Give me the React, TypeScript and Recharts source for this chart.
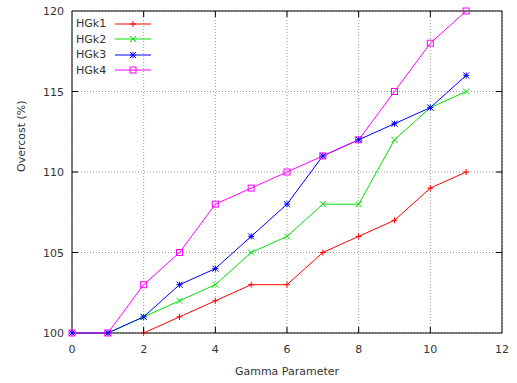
import { LineChart, Line, XAxis, YAxis, CartesianGrid, ReferenceArea } from "recharts";

const gamma = [0, 1, 2, 3, 4, 5, 6, 7, 8, 9, 10, 11];
const hgk1 = [null, null, 100, 101, 102, 103, 103, 105, 106, 107, 109, 110];
const hgk2 = [100, 100, 101, 102, 103, 105, 106, 108, 108, 112, 114, 115];
const hgk3 = [100, 100, 101, 103, 104, 106, 108, 111, 112, 113, 114, 116];
const hgk4 = [100, 100, 103, 105, 108, 109, 110, 111, 112, 115, 118, 120];
const xTicks = [0, 2, 4, 6, 8, 10, 12];
const yTicks = [100, 105, 110, 115, 120];

const data = gamma.map((g, i) => ({ g, hgk1: hgk1[i], hgk2: hgk2[i], hgk3: hgk3[i], hgk4: hgk4[i] }));

const W = 517;
const H = 383;
const LEFT = 72;
const RIGHT = 502;
const TOP = 11;
const BOTTOM = 333;
const FONT = "'DejaVu Sans', sans-serif";
const TXT = "#333";

type Kind = "plus" | "cross" | "star" | "square";

const series: { key: string; name: string; color: string; kind: Kind }[] = [
  { key: "hgk1", name: "HGk1", color: "#ff0000", kind: "plus" },
  { key: "hgk2", name: "HGk2", color: "#00e000", kind: "cross" },
  { key: "hgk3", name: "HGk3", color: "#0000ff", kind: "star" },
  { key: "hgk4", name: "HGk4", color: "#ff00ff", kind: "square" },
];

const Marker = ({ cx, cy, color, kind }: { cx: number; cy: number; color: string; kind: Kind }) => {
  const s = 3;
  const plus = (
    <>
      <line x1={cx - s} x2={cx + s} y1={cy} y2={cy} />
      <line x1={cx} x2={cx} y1={cy - s} y2={cy + s} />
    </>
  );
  const cross = (
    <>
      <line x1={cx - s} x2={cx + s} y1={cy - s} y2={cy + s} />
      <line x1={cx - s} x2={cx + s} y1={cy + s} y2={cy - s} />
    </>
  );
  return (
    <g stroke={color} strokeWidth={1} fill="none">
      {kind === "plus" && plus}
      {kind === "cross" && cross}
      {kind === "star" && (
        <>
          {plus}
          {cross}
        </>
      )}
      {kind === "square" && <rect x={cx - s} y={cy - s} width={2 * s} height={2 * s} />}
    </g>
  );
};

const makeDot = (color: string, kind: Kind) => (p: any) => {
  if (p.value == null || p.cx == null || p.cy == null) return <g key={p.key} />;
  return <Marker key={p.key} cx={p.cx} cy={p.cy} color={color} kind={kind} />;
};

const XTick = ({ x, payload }: any) => {
  const edge = payload.value === 0 || payload.value === 12;
  return (
    <g>
      {!edge && (
        <g stroke="#000">
          <line x1={x} x2={x} y1={BOTTOM} y2={BOTTOM - 6} />
          <line x1={x} x2={x} y1={TOP} y2={TOP + 6} />
        </g>
      )}
      <text x={x} y={BOTTOM + 20} textAnchor="middle" fill={TXT} fontSize={11} fontFamily={FONT}>
        {payload.value}
      </text>
    </g>
  );
};

const YTick = ({ y, payload }: any) => {
  const edge = payload.value === 100 || payload.value === 120;
  return (
    <g>
      {!edge && (
        <g stroke="#000">
          <line x1={LEFT} x2={LEFT + 6} y1={y} y2={y} />
          <line x1={RIGHT - 6} x2={RIGHT} y1={y} y2={y} />
        </g>
      )}
      <text x={LEFT - 8} y={y + 4} textAnchor="end" fill={TXT} fontSize={11} fontFamily={FONT}>
        {payload.value}
      </text>
    </g>
  );
};

const LegendBox = () => (
  <div style={{ position: "absolute", left: 76, top: 16, fontFamily: FONT, fontSize: 11, color: TXT }}>
    {series.map((s) => (
      <div key={s.key} style={{ display: "flex", alignItems: "center", height: 15.5 }}>
        <span style={{ width: 39 }}>{s.name}</span>
        <svg width={37} height={12}>
          <line x1={0} x2={36} y1={6} y2={6} stroke={s.color} strokeWidth={1} />
          <Marker cx={18} cy={6} color={s.color} kind={s.kind} />
        </svg>
      </div>
    ))}
  </div>
);

export default function App() {
  return (
    <div style={{ position: "absolute", left: 0, top: 0, width: W, height: H, background: "#fff" }}>
      <LineChart width={W} height={H} data={data} margin={{ top: TOP, right: W - RIGHT, left: 12, bottom: 20 }}>
        <CartesianGrid stroke="#999" strokeDasharray="1 2" />
        <XAxis
          dataKey="g"
          type="number"
          domain={[0, 12]}
          ticks={xTicks}
          axisLine={false}
          tickLine={false}
          tick={<XTick />}
          height={30}
          label={{ value: "Gamma Parameter", position: "insideBottom", offset: -12, fill: TXT, fontSize: 11, fontFamily: FONT }}
        />
        <YAxis
          type="number"
          domain={[100, 120]}
          ticks={yTicks}
          axisLine={false}
          tickLine={false}
          tick={<YTick />}
          width={60}
          label={{ value: "Overcost (%)", angle: -90, position: "insideLeft", offset: 0, dx: 9, fill: TXT, fontSize: 11, fontFamily: FONT }}
        />
        <ReferenceArea x1={0} x2={12} y1={100} y2={120} fill="none" stroke="#000" strokeWidth={1} fillOpacity={0} />
        {series.map((s) => (
          <Line
            key={s.key}
            dataKey={s.key}
            name={s.name}
            stroke={s.color}
            strokeWidth={1}
            type="linear"
            connectNulls={false}
            dot={makeDot(s.color, s.kind)}
            activeDot={false}
            isAnimationActive={false}
          />
        ))}
      </LineChart>
      <LegendBox />
    </div>
  );
}
